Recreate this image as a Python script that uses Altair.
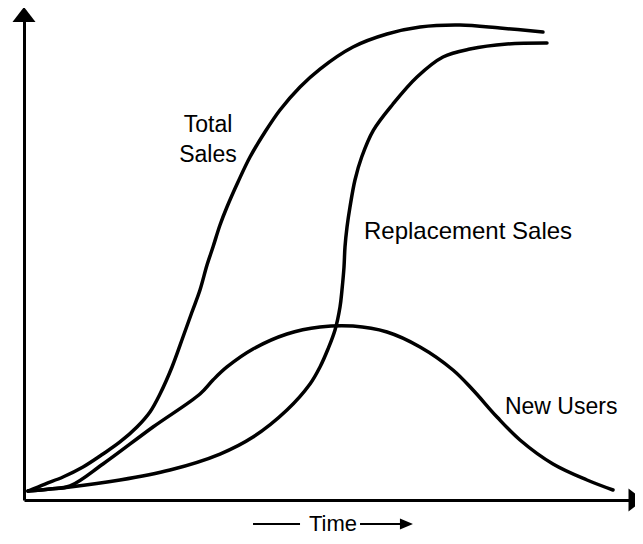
import altair as alt
import pandas as pd

# ---- data (time 0-100, sales 0-100) ----
time_total = [0.65, 3.41, 6.33, 9.58, 12.82, 15.58, 18.34, 20.45, 22.08, 24.03, 25.81, 27.27,
              28.57, 29.71, 30.68, 31.82, 32.95, 34.74, 36.69, 39.12, 41.56, 44.81, 48.05,
              53.41, 58.93, 64.29, 70.78, 77.27, 84.25]
total_sales = [1.86, 3.31, 4.76, 6.83, 9.52, 12.01, 15.11, 18.22, 21.95, 27.54, 33.75, 38.92,
               43.48, 48.65, 52.38, 56.94, 60.66, 65.84, 71.01, 76.19, 80.75, 85.51, 89.23,
               93.79, 96.48, 97.93, 98.34, 97.72, 96.89]

time_repl = [0.65, 7.47, 15.58, 23.70, 31.82, 37.18, 42.69, 46.43, 48.05, 49.35, 50.49, 51.30,
             51.62, 51.95, 52.11, 52.44, 52.92, 53.73, 54.82, 56.71, 59.90, 63.80, 68.02,
             72.40, 78.41, 84.90]
replacement_sales = [1.86, 2.69, 4.14, 6.21, 9.52, 13.04, 18.63, 24.02, 27.54, 31.26, 35.20,
                     39.96, 43.48, 48.24, 52.38, 56.52, 60.66, 66.25, 71.01, 76.53, 81.99,
                     87.58, 91.72, 93.37, 94.41, 94.62]

time_new = [0.65, 4.22, 7.47, 12.82, 20.94, 28.57, 30.68, 32.95, 37.18, 42.69, 48.05,
            53.41, 58.93, 64.29, 69.64, 72.89, 76.79, 80.52, 85.88, 91.40, 95.62]
new_users = [1.86, 2.28, 2.90, 7.45, 15.11, 21.95, 24.84, 27.54, 31.26, 34.37, 35.82,
             36.02, 34.78, 31.68, 26.92, 22.77, 17.18, 12.42, 7.45, 4.14, 2.07]

series_names = ["Total Sales", "Replacement Sales", "New Users"]
label_texts = ["Total", "Sales", "Replacement Sales", "New Users"]
axis_title = "Time"

# ---- build table ----
frames = []
for name, ts, vs in zip(series_names,
                        [time_total, time_repl, time_new],
                        [total_sales, replacement_sales, new_users]):
    frames.append(pd.DataFrame({"t": ts, "v": vs, "series": name}))
lines_df = pd.concat(frames, ignore_index=True)

X_DOM = [0, 99.19]
Y_DOM = [0, 100]
FONT = "Liberation Sans"

xs = alt.Scale(domain=X_DOM, nice=False, zero=False)
ys = alt.Scale(domain=Y_DOM, nice=False, zero=False)

ax_x = alt.Axis(domain=True, domainColor="black", domainWidth=3, ticks=False,
                labels=False, grid=False, title=None)
ax_y = alt.Axis(domain=True, domainColor="black", domainWidth=3, ticks=False,
                labels=False, grid=False, title=None)

curves = alt.Chart(lines_df).mark_line(
    interpolate="catmull-rom", color="black", strokeCap="round"
).encode(
    x=alt.X("t:Q", scale=xs, axis=ax_x),
    y=alt.Y("v:Q", scale=ys, axis=ax_y),
    detail="series:N",
    strokeWidth=alt.StrokeWidth("series:N",
                                scale=alt.Scale(domain=series_names, range=[3.5, 3.5, 2.2]),
                                legend=None),
)

# ---- text labels ----
tot_df = pd.DataFrame({"text": label_texts[:2], "t": [29.87, 29.87], "v": [76.19, 69.98]})
lab_total = alt.Chart(tot_df).mark_text(
    font=FONT, fontSize=23, color="black", align="center", baseline="alphabetic"
).encode(x=alt.X("t:Q", scale=xs), y=alt.Y("v:Q", scale=ys), text="text:N")

rep_df = pd.DataFrame({"text": [label_texts[2]], "t": [55.19], "v": [54.04]})
lab_rep = alt.Chart(rep_df).mark_text(
    font=FONT, fontSize=24, color="black", align="left", baseline="alphabetic"
).encode(x=alt.X("t:Q", scale=xs), y=alt.Y("v:Q", scale=ys), text="text:N")

new_df = pd.DataFrame({"text": [label_texts[3]], "t": [78.08], "v": [17.81]})
lab_new = alt.Chart(new_df).mark_text(
    font=FONT, fontSize=23, color="black", align="left", baseline="alphabetic"
).encode(x=alt.X("t:Q", scale=xs), y=alt.Y("v:Q", scale=ys), text="text:N")

time_df = pd.DataFrame({"text": [axis_title], "t": [50.16], "v": [-6.42]})
time_txt = alt.Chart(time_df).mark_text(
    font=FONT, fontSize=22, color="black", align="center", baseline="alphabetic"
).encode(x=alt.X("t:Q", scale=xs), y=alt.Y("v:Q", scale=ys), text="text:N")

# ---- arrow strokes beside "Time" ----
arrow_lines = pd.DataFrame({"t": [37.18, 54.55], "t2": [44.81, 62.0], "v": [-4.97, -4.97]})
time_rules = alt.Chart(arrow_lines).mark_rule(color="black", strokeWidth=2.2).encode(
    x=alt.X("t:Q", scale=xs), x2="t2:Q", y=alt.Y("v:Q", scale=ys)
)

# ---- arrowheads ----
up_df = pd.DataFrame({"t": [0.0], "v": [100.52]})
up_head = alt.Chart(up_df).mark_point(
    shape="M-1,0.65L1,0.65L0,-0.65Z", filled=True, size=529, color="black", opacity=1,
    strokeWidth=0
).encode(x=alt.X("t:Q", scale=xs), y=alt.Y("v:Q", scale=ys))

right_df = pd.DataFrame({"t": [99.35], "v": [0.0]})
right_head = alt.Chart(right_df).mark_point(
    shape="M-0.65,-1L-0.65,1L0.65,0Z", filled=True, size=529, color="black", opacity=1,
    strokeWidth=0
).encode(x=alt.X("t:Q", scale=xs), y=alt.Y("v:Q", scale=ys))

small_df = pd.DataFrame({"t": [62.09], "v": [-4.97]})
small_head = alt.Chart(small_df).mark_point(
    shape="M-0.5,-0.42L-0.5,0.42L0.5,0Z", filled=True, size=676, color="black", opacity=1,
    strokeWidth=0
).encode(x=alt.X("t:Q", scale=xs), y=alt.Y("v:Q", scale=ys))

chart = alt.layer(
    curves, lab_total, lab_rep, lab_new, time_txt, time_rules, up_head, right_head, small_head
).properties(
    width=611, height=483,
    padding={"left": 16, "top": 9, "right": 0, "bottom": 36},
    autosize=alt.AutoSizeParams(type="none"),
    background="white",
).configure_view(stroke=None)

chart.save("out.html", embed_options={"renderer": "svg", "actions": False})
